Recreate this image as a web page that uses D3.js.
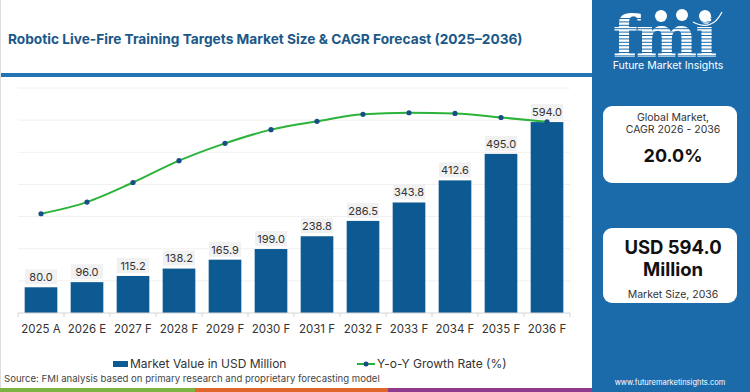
<!DOCTYPE html>
<html>
<head>
<meta charset="utf-8">
<script src="https://cdn.jsdelivr.net/npm/d3@7"></script>
<style>
  body { margin: 0; background: #fff; }
  svg { display: block; font-family: Inter, Roboto, "Open Sans", sans-serif; }
</style>
</head>
<body>
<div id="chart"></div>
<script>
// chart data
const years = ["2025 A", "2026 E", "2027 F", "2028 F", "2029 F", "2030 F",
               "2031 F", "2032 F", "2033 F", "2034 F", "2035 F", "2036 F"];
const marketValue = [80.0, 96.0, 115.2, 138.2, 165.9, 199.0, 238.8, 286.5, 343.8, 412.6, 495.0, 594.0];
const yoyLine = [44.1, 49.3, 58.0, 67.7, 75.4, 81.5, 85.2, 88.3, 89.0, 88.7, 86.9, 85.0];
const yTicks = [0, 100, 200, 300, 400, 500, 600, 700];

const W = 750, H = 392;
const barColor = "#0d5a93", panelBlue = "#1b6bab", lineColor = "#2bb33a", dotColor = "#164f87";

const svg = d3.select("#chart").append("svg")
    .attr("width", W).attr("height", H);

// header
const title = svg.append("text")
    .attr("x", 8).attr("y", 44)
    .attr("fill", "#1a5889")
    .attr("font-weight", 700)
    .attr("font-size", 16)
    .text("Robotic Live-Fire Training Targets Market Size & CAGR Forecast (2025\u20132036)");
// fit title to the reference width
let tw = title.node().getComputedTextLength();
title.attr("font-size", 16 * 515 / tw);

svg.append("rect").attr("x", 0).attr("y", 73).attr("width", 592).attr("height", 4).attr("fill", "#2274b3");
svg.append("rect").attr("x", 0).attr("y", 0).attr("width", 1).attr("height", H).attr("fill", "#ddd");

// plot
let x = d3.scaleBand().domain(years).range([18, 570]).paddingInner(0.29).paddingOuter(0.145);
let y = d3.scaleLinear().domain([0, 700]).range([313, 88]);
let y2 = d3.scaleLinear().domain([0, 100]).range([313, 88]);

const g = svg.append("g");

g.selectAll(".grid").data(yTicks.slice(1)).enter().append("line")
    .attr("class", "grid")
    .attr("x1", 18).attr("x2", 570)
    .attr("y1", d => y(d)).attr("y2", d => y(d))
    .attr("stroke", "#f0f0f0").attr("stroke-width", 1);

g.selectAll(".bar").data(marketValue).enter().append("rect")
    .attr("class", "bar")
    .attr("x", (d, i) => x(years[i]))
    .attr("width", x.bandwidth())
    .attr("y", d => y(d))
    .attr("height", d => y(0) - y(d))
    .attr("fill", barColor);

// x axis
const xAxis = g.append("g").attr("transform", "translate(0," + y(0) + ")");
xAxis.append("line").attr("x1", 18).attr("x2", 570).attr("stroke", "#d4d4d4");
const bounds = [18].concat(years.map(d => x(d) + x.bandwidth() + x.step() * x.paddingInner() / 2));
bounds[bounds.length - 1] = 570;
xAxis.selectAll(".tk").data(bounds).enter().append("line")
    .attr("x1", d => d).attr("x2", d => d).attr("y1", 0).attr("y2", 4)
    .attr("stroke", "#d4d4d4");
xAxis.selectAll(".lbl").data(years).enter().append("text")
    .attr("x", d => x(d) + x.bandwidth() / 2)
    .attr("y", 20)
    .attr("text-anchor", "middle")
    .attr("font-size", 11.5)
    .attr("fill", "#333")
    .text(d => d);

// value labels
const lab = g.selectAll(".vl").data(marketValue).enter().append("g")
    .attr("transform", (d, i) => "translate(" + (x(years[i]) + x.bandwidth() / 2) + "," + (y(d) - 10) + ")");
lab.append("rect").attr("x", -16).attr("y", -8).attr("width", 32).attr("height", 15)
    .attr("fill", "#f1f1f1");
lab.append("text").attr("text-anchor", "middle").attr("dy", "0.35em")
    .attr("font-size", 11).attr("fill", "#333")
    .text(d => d.toFixed(1));

// growth line
const line = d3.line()
    .x((d, i) => x(years[i]) + x.bandwidth() / 2)
    .y(d => y2(d))
    .curve(d3.curveMonotoneX);
g.append("path").datum(yoyLine)
    .attr("d", line)
    .attr("fill", "none").attr("stroke", lineColor).attr("stroke-width", 2);
g.selectAll(".dot").data(yoyLine).enter().append("circle")
    .attr("cx", (d, i) => x(years[i]) + x.bandwidth() / 2)
    .attr("cy", d => y2(d))
    .attr("r", 2.6).attr("fill", dotColor);

// legend
const leg = svg.append("g");
leg.append("rect").attr("x", 113).attr("y", 361).attr("width", 15).attr("height", 6).attr("fill", barColor);
leg.append("text").attr("x", 130).attr("y", 368).attr("font-size", 12).attr("fill", "#333")
    .text("Market Value in USD Million");
leg.append("line").attr("x1", 357).attr("x2", 375).attr("y1", 364).attr("y2", 364)
    .attr("stroke", lineColor).attr("stroke-width", 2);
leg.append("circle").attr("cx", 366).attr("cy", 364).attr("r", 2.5).attr("fill", dotColor);
leg.append("text").attr("x", 377).attr("y", 368).attr("font-size", 12).attr("fill", "#333")
    .text("Y-o-Y Growth Rate (%)");

svg.append("text").attr("x", 4).attr("y", 381.5).attr("font-size", 9.6).attr("fill", "#444")
    .text("Source: FMI analysis based on primary research and proprietary forecasting model");

// colour strip
const strip = [["#7cb342", 0, 195], ["#e0662c", 195, 388], ["#8d3a8f", 388, 592]];
svg.selectAll(".strip").data(strip).enter().append("rect")
    .attr("x", d => d[1]).attr("width", d => d[2] - d[1])
    .attr("y", 388).attr("height", 4).attr("fill", d => d[0]);

// side panel
const side = svg.append("g");
side.append("rect").attr("x", 592).attr("y", 0).attr("width", W - 592).attr("height", H).attr("fill", panelBlue);

// logo
const logo = side.append("g");
logo.append("text").attr("x", 664).attr("y", 57).attr("text-anchor", "middle")
    .attr("font-family", "'DejaVu Serif', serif").attr("font-weight", 700)
    .attr("font-size", 58).attr("fill", "#fff").attr("letter-spacing", -2)
    .text("fmi");
for (let yy = 18; yy < 60; yy += 3.4) {
    logo.append("rect").attr("x", 612).attr("y", yy).attr("width", 108).attr("height", 1)
        .attr("fill", panelBlue);
}
[[661, 16], [682, 15], [705, 16]].forEach(c => {
    logo.append("circle").attr("cx", c[0]).attr("cy", c[1]).attr("r", 6).attr("fill", "#fff");
});
logo.append("path").attr("d", "M693,22 Q712,32 722,12").attr("fill", "none")
    .attr("stroke", "#fff").attr("stroke-width", 1.2);
logo.append("text").attr("x", 668).attr("y", 69).attr("text-anchor", "middle")
    .attr("font-size", 10.5).attr("fill", "#fff")
    .text("Future Market Insights");

// cards
const card = (y0, h) => side.append("rect").attr("x", 603).attr("y", y0).attr("width", 134).attr("height", h)
    .attr("rx", 9).attr("fill", "#fff");
card(106, 77);
card(228, 75);

const ctext = (yy, t, size, weight, col) => side.append("text")
    .attr("x", 673).attr("y", yy).attr("text-anchor", "middle")
    .attr("font-size", size).attr("font-weight", weight).attr("fill", col).text(t);
ctext(120.5, "Global Market,", 10.5, 400, "#333");
ctext(133, "CAGR 2026 - 2036", 10.5, 400, "#333");
ctext(162, "20.0%", 18, 700, "#111");
ctext(254, "USD 594.0", 18.5, 700, "#111");
ctext(276, "Million", 18.5, 700, "#111");
ctext(298, "Market Size, 2036", 10.5, 400, "#333");

side.append("text").attr("x", 670).attr("y", 384.5).attr("text-anchor", "middle")
    .attr("font-size", 7.5).attr("fill", "#fff")
    .text("www.futuremarketinsights.com");
</script>
</body>
</html>
